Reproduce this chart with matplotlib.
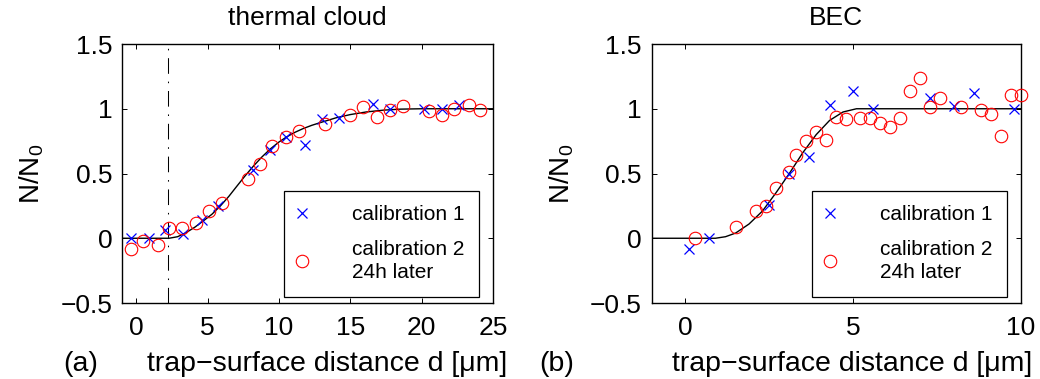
import matplotlib
matplotlib.use("Agg")
import matplotlib.pyplot as plt

plt.rcParams["font.family"] = ["Liberation Sans", "DejaVu Sans"]
plt.rcParams["mathtext.fontset"] = "custom"
plt.rcParams["mathtext.rm"] = "Liberation Sans"
plt.rcParams["mathtext.it"] = "Liberation Sans:italic"

# panel (a): thermal cloud
cal1_a_x = [-0.4, 0.9, 2.0, 3.3, 4.6, 5.7, 8.2, 9.4, 10.5, 11.8, 13.0, 14.2, 16.6, 17.8, 20.2, 21.4, 22.6]
cal1_a_y = [0.0, 0.0, 0.06, 0.03, 0.14, 0.25, 0.53, 0.68, 0.78, 0.72, 0.92, 0.93, 1.04, 1.0, 1.0, 1.0, 1.03]
cal2_a_x = [-0.4, 0.5, 1.5, 2.3, 3.2, 4.2, 5.1, 6.0, 7.8, 8.7, 9.5, 10.5, 11.4, 13.2,
            15.0, 15.9, 16.9, 17.8, 18.7, 20.5, 21.4, 22.3, 23.3, 24.1]
cal2_a_y = [-0.08, -0.02, -0.05, 0.08, 0.08, 0.12, 0.21, 0.27, 0.46, 0.57, 0.71, 0.78, 0.83, 0.88,
            0.95, 1.01, 0.94, 0.99, 1.02, 0.98, 0.95, 1.0, 1.03, 0.99]
fit_a_x = [-1, 2.3, 2.9, 3.5, 4.1, 4.7, 5.3, 5.9, 6.5, 7.0, 7.6, 8.2, 8.8, 9.4, 10.0, 10.5,
           11.1, 11.7, 12.3, 12.9, 14.0, 15.0, 16.1, 17.3, 18.5, 20.0, 25.0]
fit_a_y = [0.0, 0.0, 0.012, 0.044, 0.085, 0.134, 0.185, 0.25, 0.325, 0.395, 0.478, 0.556, 0.627, 0.69,
           0.743, 0.78, 0.817, 0.847, 0.872, 0.893, 0.93, 0.955, 0.975, 0.989, 0.997, 1.0, 1.0]
cutoff_a = 2.25

# panel (b): BEC
cal1_b_x = [0.1, 0.7, 2.5, 3.1, 3.7, 4.3, 5.0, 5.6, 7.3, 8.0, 8.6, 9.8]
cal1_b_y = [-0.08, 0.0, 0.26, 0.5, 0.63, 1.03, 1.14, 1.0, 1.08, 1.02, 1.12, 1.0]
cal2_b_x = [0.3, 1.5, 2.1, 2.4, 2.7, 3.1, 3.3, 3.6, 3.9, 4.2, 4.5, 4.8, 5.2, 5.5, 5.8,
            6.1, 6.4, 6.7, 7.0, 7.3, 7.6, 8.2, 8.8, 9.1, 9.4, 9.7, 10.0]
cal2_b_y = [0.0, 0.09, 0.21, 0.25, 0.39, 0.51, 0.64, 0.75, 0.82, 0.76, 0.94, 0.92, 0.93, 0.93, 0.89,
            0.86, 0.93, 1.14, 1.24, 1.01, 1.08, 1.01, 0.99, 0.96, 0.79, 1.11, 1.11]
fit_b_x = [-1, 0.9, 1.2, 1.5, 1.9, 2.3, 2.7, 3.1, 3.5, 3.9, 4.3, 4.7, 5.1, 10]
fit_b_y = [0.0, 0.0, 0.012, 0.04, 0.11, 0.21, 0.35, 0.5, 0.66, 0.8, 0.91, 0.975, 1.0, 1.0]

fig = plt.figure(figsize=(10.4, 3.79), dpi=100)
ax_a = fig.add_axes([0.1173, 0.2005, 0.3567, 0.6834])
ax_b = fig.add_axes([0.6266, 0.2005, 0.3551, 0.6834])

panels = [
    (ax_a, cal1_a_x, cal1_a_y, cal2_a_x, cal2_a_y, fit_a_x, fit_a_y, "thermal cloud",
     "(a)", 0.078, 0.554, (-1, 25), [0, 5, 10, 15, 20, 25]),
    (ax_b, cal1_b_x, cal1_b_y, cal2_b_x, cal2_b_y, fit_b_x, fit_b_y, "BEC",
     "(b)", 0.5356, 0.544, (-1, 10), [0, 5, 10]),
]

for ax, x1, y1, x2, y2, fx, fy, title, tag, tag_x, lab_x, xlim, xticks in panels:
    ax.plot(fx, fy, color="black", lw=1.0, zorder=2)
    ax.plot(x1, y1, ls="none", marker="x", ms=7, mew=0.9, color="blue",
            label="calibration 1", clip_on=False, zorder=3)
    ax.plot(x2, y2, ls="none", marker="o", ms=9, mew=0.8, mfc="none", mec="red",
            label="calibration 2\n24h later", clip_on=False, zorder=3)
    ax.set_xlim(*xlim)
    ax.set_ylim(-0.5, 1.5)
    ax.set_xticks(xticks)
    ax.set_yticks([-0.5, 0, 0.5, 1, 1.5])
    ax.set_yticklabels(["\u22120.5", "0", "0.5", "1", "1.5"])
    ax.tick_params(direction="in", top=True, right=True, length=3.5, width=0.7,
                   labelsize=19)
    ax.tick_params(axis="y", pad=7)
    ax.tick_params(axis="x", pad=9)
    for sp in ax.spines.values():
        sp.set_linewidth(1.0)
    ax.set_title(title, fontsize=19, pad=14)
    ax.set_ylabel("N/N$_\\mathregular{0}$", fontsize=20)
    ax.yaxis.set_label_coords(-0.205, 0.5)
    ax.set_xlabel("trap\u2212surface distance d [\u03bcm]", fontsize=20.5)
    ax.xaxis.set_label_coords(lab_x, -0.2625)
    ax.xaxis.label.set_va("baseline")
    fig.text(tag_x, 1 - 371 / 379, tag, fontsize=20.5, ha="center", va="baseline")
    leg = ax.legend(loc="lower right", bbox_to_anchor=(0.962, 0.023), fontsize=15,
                    frameon=True, fancybox=False, edgecolor="black", framealpha=1,
                    handlelength=0.4, handletextpad=2.17, borderpad=0.7,
                    labelspacing=0.75, borderaxespad=0)
    leg.get_frame().set_linewidth(0.9)
    for t in leg.get_texts():
        t.set_linespacing(1.3)

ax_a.axvline(cutoff_a, color="black", lw=0.75, ls=(0, (15, 7.5, 1.5, 7.5)), zorder=1)

fig.savefig("out.png", dpi=100)
